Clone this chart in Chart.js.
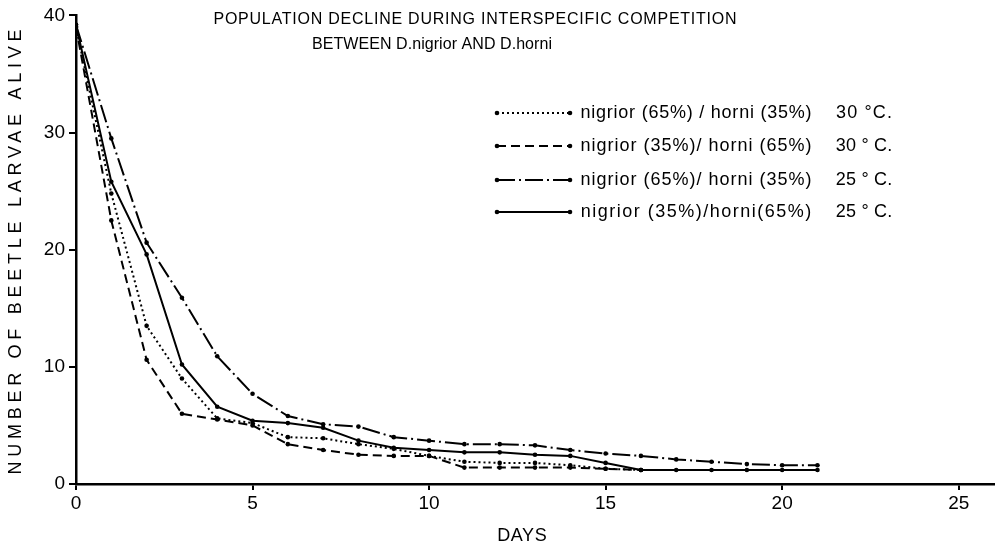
<!DOCTYPE html>
<html>
<head>
<meta charset="utf-8">
<script src="https://cdn.jsdelivr.net/npm/chart.js@4/dist/chart.umd.min.js"></script>
<style>
html,body{margin:0;padding:0;background:#fff;}
canvas{display:block;}
</style>
</head>
<body>
<canvas id="c" width="998" height="548"></canvas>
<script>
// ---- data ----
const titleLines = ["POPULATION DECLINE DURING INTERSPECIFIC COMPETITION", "BETWEEN D.nigrior AND D.horni"];
const xTitle = "DAYS";
const yTitle = "NUMBER OF BEETLE LARVAE ALIVE";
const xTicks = [0, 5, 10, 15, 20, 25];
const yTicks = [0, 10, 20, 30, 40];

const seriesLabels = [
  "nigrior (65%) / horni (35%)",
  "nigrior (35%)/ horni (65%)",
  "nigrior (65%)/ horni (35%)",
  "nigrior (35%)/horni(65%)"
];
const seriesTemps = ["30 °C.", "30 ° C.", "25 ° C.", "25 ° C."];

const daysA = [0,1,2,3,4,5,6,7,8,9,10,11,12,13,14,15,16];
const valsA = [39,24.8,13.5,9.0,5.6,5.2,4.0,3.9,3.4,3.0,2.4,1.9,1.8,1.8,1.6,1.3,1.2];

const daysB = [0,1,2,3,4,5,6,7,8,9,10,11,12,13,14,15,16];
const valsB = [39,22.5,10.6,6.0,5.5,5.0,3.4,2.9,2.5,2.4,2.4,1.4,1.4,1.4,1.4,1.3,1.2];

const daysC = [0,1,2,3,4,5,6,7,8,9,10,11,12,13,14,15,16,17,18,19,20,21];
const valsC = [39.2,29.5,20.6,15.9,10.9,7.7,5.8,5.1,4.9,4.0,3.7,3.4,3.4,3.3,2.9,2.6,2.4,2.1,1.9,1.7,1.6,1.6];

const daysD = [0,1,2,3,4,5,6,7,8,9,10,11,12,13,14,15,16,17,18,19,20,21];
const valsD = [39.2,25.8,19.6,10.2,6.6,5.4,5.2,4.8,3.7,3.1,2.9,2.7,2.7,2.5,2.4,1.8,1.2,1.2,1.2,1.2,1.2,1.2];

// ---- build chart ----
function pts(xs, ys){ return xs.map((x,i)=>({x:x, y:ys[i]})); }

const dashes = [[2,3],[9,5],[18,4,2,4],[]];
const allDays = [daysA, daysB, daysC, daysD];
const allVals = [valsA, valsB, valsC, valsD];

const datasets = allVals.map((v,i)=>({
  label: seriesLabels[i],
  data: pts(allDays[i], v),
  borderColor: '#000',
  backgroundColor: '#000',
  borderWidth: 2,
  borderDash: dashes[i],
  pointRadius: 2.3,
  pointBorderWidth: 0,
  pointBackgroundColor: '#000',
  tension: 0,
  fill: false
}));

const FONT = '"Liberation Sans", Arial, sans-serif';

function fitText(ctx, text, cx, cy, width){
  ctx.letterSpacing = '0px';
  const w0 = ctx.measureText(text).width;
  const n = text.length;
  const ls = n > 1 ? (width - w0) / n : 0;
  ctx.letterSpacing = ls.toFixed(2) + 'px';
  const w = ctx.measureText(text).width;
  ctx.textAlign = 'left';
  ctx.fillText(text, cx - w/2 + ls/2, cy);
  ctx.letterSpacing = '0px';
}

const annot = {
  id: 'annot',
  afterDraw(chart){
    const ctx = chart.ctx;
    ctx.save();
    ctx.fillStyle = '#000';
    ctx.strokeStyle = '#000';
    ctx.textBaseline = 'middle';
    ctx.font = '16px ' + FONT;
    fitText(ctx, titleLines[0], 475, 20, 524);
    fitText(ctx, titleLines[1], 432, 45, 240);
    ctx.font = '18px ' + FONT;
    fitText(ctx, xTitle, 522, 536, 50);
    ctx.save();
    ctx.translate(16, 252);
    ctx.rotate(-Math.PI/2);
    ctx.font = '18px ' + FONT;
    fitText(ctx, yTitle, 0, 0, 450);
    ctx.restore();

    // legend
    const rows = [113, 146, 180, 212];
    chart.data.datasets.forEach((ds, i)=>{
      const y = rows[i];
      ctx.save();
      ctx.lineWidth = ds.borderWidth;
      ctx.setLineDash(ds.borderDash);
      ctx.beginPath();
      ctx.moveTo(497, y); ctx.lineTo(570, y);
      ctx.stroke();
      ctx.setLineDash([]);
      [497, 570].forEach(px=>{
        ctx.beginPath(); ctx.arc(px, y, 2.3, 0, Math.PI*2); ctx.fill();
      });
      ctx.restore();
      ctx.font = '18px ' + FONT;
      ctx.textBaseline = 'middle';
      fitText(ctx, ds.label, 580 + 116, y, 232);
      fitText(ctx, seriesTemps[i], 835 + 29, y, 57);
    });
    ctx.restore();
  }
};

new Chart(document.getElementById('c'), {
  type: 'line',
  data: { datasets },
  options: {
    responsive: false,
    devicePixelRatio: 1,
    animation: false,
    layout: { padding: { top: 10, right: 0, bottom: 0, left: 0 } },
    plugins: { legend: { display: false }, tooltip: { enabled: false }, title: { display: false } },
    scales: {
      x: {
        type: 'linear',
        min: 0, max: 26,
        afterFit(s){ s.height = 64; },
        afterBuildTicks(s){ s.ticks = xTicks.map(v=>({value:v})); },
        ticks: { color: '#000', font: { family: FONT, size: 19 }, padding: 2, maxRotation: 0 },
        grid: { display: true, drawOnChartArea: false, drawTicks: true, tickLength: 6, color: '#000', lineWidth: 2 },
        border: { display: true, color: '#000', width: 2.5 }
      },
      y: {
        type: 'linear',
        min: 0, max: 40,
        afterFit(s){ s.width = 76; },
        afterBuildTicks(s){ s.ticks = yTicks.map(v=>({value:v})); },
        ticks: { color: '#000', font: { family: FONT, size: 19 }, padding: 4 },
        grid: { display: true, drawOnChartArea: false, drawTicks: true, tickLength: 7, color: '#000', lineWidth: 2 },
        border: { display: true, color: '#000', width: 2.5 }
      }
    }
  },
  plugins: [annot]
});
</script>
</body>
</html>
